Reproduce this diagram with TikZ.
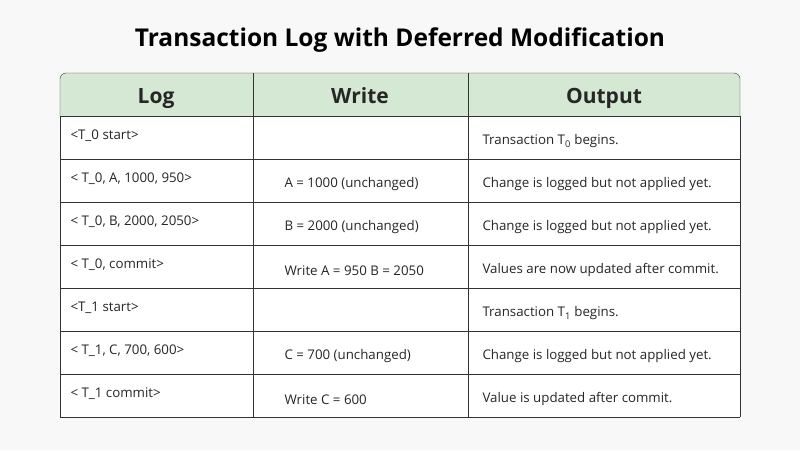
\documentclass[tikz,border=0pt]{standalone}
\usepackage{fontspec}
\setmainfont{Open Sans}
\definecolor{hdr}{HTML}{D5E8D4}
\definecolor{bg}{HTML}{F8F8F8}
\definecolor{ln}{HTML}{333333}
\begin{document}
\begin{tikzpicture}[x=1pt,y=-1pt,
  hd/.style={font=\fontsize{21}{24}\selectfont\bfseries,text=black!85,anchor=base},
  cl/.style={font=\fontsize{13.3}{16}\selectfont,anchor=west,text=black!85}]
\fill[bg] (0,0) rectangle (800,450);
\useasboundingbox (0,0) rectangle (800,450);
\node[font=\fontsize{24.5}{28}\selectfont\bfseries] (title) at (400,40) {Transaction Log with Deferred Modification};
\fill[white] (60,116) rectangle (740,417);
\draw[ln,fill=hdr,rounded corners=6pt] (60,116) -- (60,73) -- (740,73) -- (740,116);
\draw[ln,thick] (60,116) -- (740,116);
\foreach \y in {159,202,245,288,331,374,417} \draw[ln] (60,\y) -- (740,\y);
\draw[ln] (60,116) -- (60,417) (740,116) -- (740,417);
\foreach \x in {253,468} \draw[ln] (\x,73) -- (\x,417);
\node[hd] (h1) at (156,103) {Log};
\node[hd] (h2) at (360,103) {Write};
\node[hd] (h3) at (604,103) {Output};
\foreach \i/\l/\w/\o in {0/{<T\_0 start>}/{}/{Transaction T\textsubscript{0} begins.},
 1/{< T\_0, A, 1000, 950>}/{A = 1000 (unchanged)}/{Change is logged but not applied yet.},
 2/{< T\_0, B, 2000, 2050>}/{B = 2000 (unchanged)}/{Change is logged but not applied yet.},
 3/{< T\_0, commit>}/{Write A = 950 B = 2050}/{Values are now updated after commit.},
 4/{<T\_1 start>}/{}/{Transaction T\textsubscript{1} begins.},
 5/{< T\_1, C, 700, 600>}/{C = 700 (unchanged)}/{Change is logged but not applied yet.},
 6/{< T\_1 commit>}/{Write C = 600}/{Value is updated after commit.}}{
  \pgfmathsetmacro{\yc}{137.5+43*\i}
  \node[cl] (l\i) at (67,\yc-2) {\l};
  \node[cl] (w\i) at (281,\yc+4) {\w};
  \node[cl] (o\i) at (479,\yc+4) {\o};
}
\end{tikzpicture}
\end{document}
